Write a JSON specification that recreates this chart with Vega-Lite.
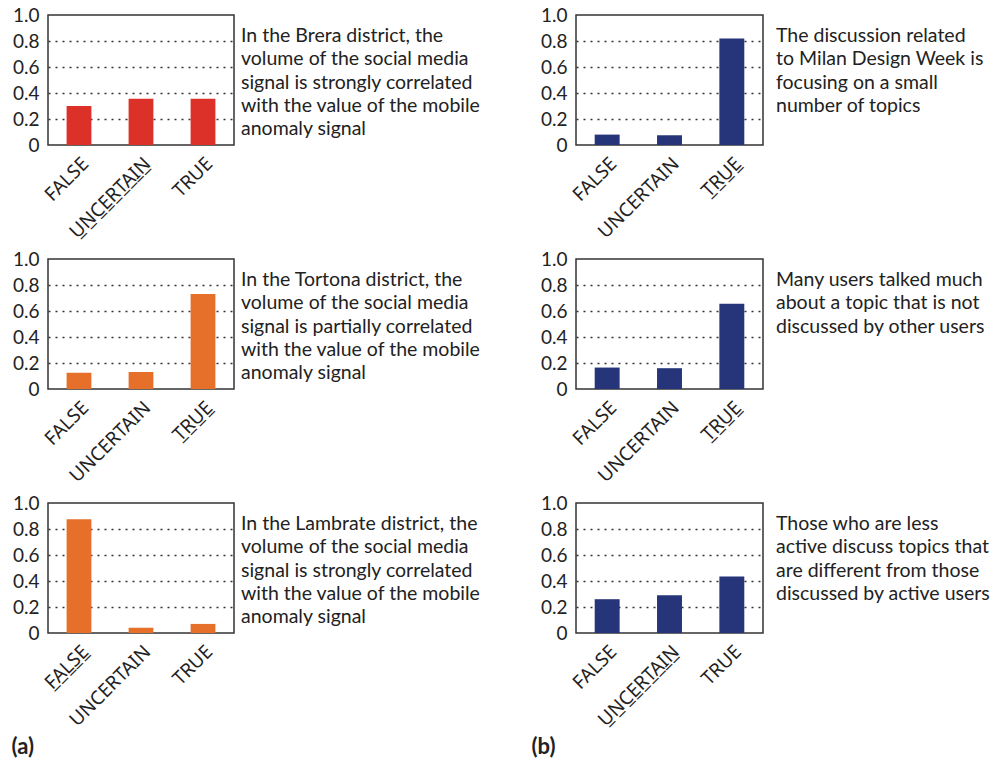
{
  "$schema": "https://vega.github.io/schema/vega-lite/v6.json",
  "background": "white",
  "padding": {"left": 10, "top": 5, "right": 5, "bottom": 5},
  "datasets": {
    "bars": [
      {"panel": "a1", "answer": "FALSE", "share": 0.30},
      {"panel": "a1", "answer": "UNCERTAIN", "share": 0.355},
      {"panel": "a1", "answer": "TRUE", "share": 0.355},
      {"panel": "a2", "answer": "FALSE", "share": 0.125},
      {"panel": "a2", "answer": "UNCERTAIN", "share": 0.13},
      {"panel": "a2", "answer": "TRUE", "share": 0.73},
      {"panel": "a3", "answer": "FALSE", "share": 0.875},
      {"panel": "a3", "answer": "UNCERTAIN", "share": 0.04},
      {"panel": "a3", "answer": "TRUE", "share": 0.07},
      {"panel": "b1", "answer": "FALSE", "share": 0.08},
      {"panel": "b1", "answer": "UNCERTAIN", "share": 0.075},
      {"panel": "b1", "answer": "TRUE", "share": 0.82},
      {"panel": "b2", "answer": "FALSE", "share": 0.165},
      {"panel": "b2", "answer": "UNCERTAIN", "share": 0.16},
      {"panel": "b2", "answer": "TRUE", "share": 0.655},
      {"panel": "b3", "answer": "FALSE", "share": 0.26},
      {"panel": "b3", "answer": "UNCERTAIN", "share": 0.29},
      {"panel": "b3", "answer": "TRUE", "share": 0.435}
    ],
    "notes": [
      {"panel": "a1", "line": 1, "text": "In the Brera district, the"},
      {"panel": "a1", "line": 2, "text": "volume of the social media"},
      {"panel": "a1", "line": 3, "text": "signal is strongly correlated"},
      {"panel": "a1", "line": 4, "text": "with the value of the mobile"},
      {"panel": "a1", "line": 5, "text": "anomaly signal"},
      {"panel": "a2", "line": 1, "text": "In the Tortona district, the"},
      {"panel": "a2", "line": 2, "text": "volume of the social media"},
      {"panel": "a2", "line": 3, "text": "signal is partially correlated"},
      {"panel": "a2", "line": 4, "text": "with the value of the mobile"},
      {"panel": "a2", "line": 5, "text": "anomaly signal"},
      {"panel": "a3", "line": 1, "text": "In the Lambrate district, the"},
      {"panel": "a3", "line": 2, "text": "volume of the social media"},
      {"panel": "a3", "line": 3, "text": "signal is strongly correlated"},
      {"panel": "a3", "line": 4, "text": "with the value of the mobile"},
      {"panel": "a3", "line": 5, "text": "anomaly signal"},
      {"panel": "b1", "line": 1, "text": "The discussion related"},
      {"panel": "b1", "line": 2, "text": "to Milan Design Week is"},
      {"panel": "b1", "line": 3, "text": "focusing on a small"},
      {"panel": "b1", "line": 4, "text": "number of topics"},
      {"panel": "b2", "line": 1, "text": "Many users talked much"},
      {"panel": "b2", "line": 2, "text": "about a topic that is not"},
      {"panel": "b2", "line": 3, "text": "discussed by other users"},
      {"panel": "b3", "line": 1, "text": "Those who are less"},
      {"panel": "b3", "line": 2, "text": "active discuss topics that"},
      {"panel": "b3", "line": 3, "text": "are different from those"},
      {"panel": "b3", "line": 4, "text": "discussed by active users"}
    ]
  },
  "columns": 4,
  "align": "each",
  "bounds": "flush",
  "spacing": {"column": 7, "row": 114},
  "concat": [
    {
      "width": 186, "height": 130,
      "data": {"name": "bars"},
      "transform": [{"filter": "datum.panel == 'a1'"}],
      "mark": {"type": "bar", "color": "#dc3129"},
      "encoding": {
        "x": {"field": "answer", "type": "nominal", "sort": ["FALSE", "UNCERTAIN", "TRUE"], "scale": {"paddingInner": 0.6, "paddingOuter": 0.3},
              "axis": {"title": null, "labelExpr": "datum.value == 'UNCERTAIN' ? replace(datum.label, regexp('(.)', 'g'), '$1\u0332') : datum.label"}},
        "y": {"field": "share", "type": "quantitative", "scale": {"domain": [0, 1]}, "axis": {"title": null}}
      }
    },
    {
      "width": 328, "height": 130, "view": {"stroke": null},
      "data": {"name": "notes"},
      "transform": [{"filter": "datum.panel == 'a1'"}],
      "mark": {"type": "text", "align": "left", "baseline": "middle", "font": "Lato", "fontSize": 19.5, "color": "#222222"},
      "encoding": {
        "x": {"datum": 0, "type": "quantitative", "scale": {"domain": [0, 1]}, "axis": null},
        "y": {"field": "line", "type": "quantitative", "scale": {"domain": [0.099, 5.68], "reverse": true}, "axis": null},
        "text": {"field": "text"}
      }
    },
    {
      "width": 187, "height": 130,
      "data": {"name": "bars"},
      "transform": [{"filter": "datum.panel == 'b1'"}],
      "mark": {"type": "bar", "color": "#263479"},
      "encoding": {
        "x": {"field": "answer", "type": "nominal", "sort": ["FALSE", "UNCERTAIN", "TRUE"], "scale": {"paddingInner": 0.6, "paddingOuter": 0.3},
              "axis": {"title": null, "labelExpr": "datum.value == 'TRUE' ? replace(datum.label, regexp('(.)', 'g'), '$1\u0332') : datum.label"}},
        "y": {"field": "share", "type": "quantitative", "scale": {"domain": [0, 1]}, "axis": {"title": null}}
      }
    },
    {
      "width": 217, "height": 130, "view": {"stroke": null},
      "data": {"name": "notes"},
      "transform": [{"filter": "datum.panel == 'b1'"}],
      "mark": {"type": "text", "align": "left", "baseline": "middle", "font": "Lato", "fontSize": 19.5, "color": "#222222", "dx": 6},
      "encoding": {
        "x": {"datum": 0, "type": "quantitative", "scale": {"domain": [0, 1]}, "axis": null},
        "y": {"field": "line", "type": "quantitative", "scale": {"domain": [0.099, 5.68], "reverse": true}, "axis": null},
        "text": {"field": "text"}
      }
    },
    {
      "width": 186, "height": 130,
      "data": {"name": "bars"},
      "transform": [{"filter": "datum.panel == 'a2'"}],
      "mark": {"type": "bar", "color": "#e6702a"},
      "encoding": {
        "x": {"field": "answer", "type": "nominal", "sort": ["FALSE", "UNCERTAIN", "TRUE"], "scale": {"paddingInner": 0.6, "paddingOuter": 0.3},
              "axis": {"title": null, "labelExpr": "datum.value == 'TRUE' ? replace(datum.label, regexp('(.)', 'g'), '$1\u0332') : datum.label"}},
        "y": {"field": "share", "type": "quantitative", "scale": {"domain": [0, 1]}, "axis": {"title": null}}
      }
    },
    {
      "width": 328, "height": 130, "view": {"stroke": null},
      "data": {"name": "notes"},
      "transform": [{"filter": "datum.panel == 'a2'"}],
      "mark": {"type": "text", "align": "left", "baseline": "middle", "font": "Lato", "fontSize": 19.5, "color": "#222222"},
      "encoding": {
        "x": {"datum": 0, "type": "quantitative", "scale": {"domain": [0, 1]}, "axis": null},
        "y": {"field": "line", "type": "quantitative", "scale": {"domain": [0.099, 5.68], "reverse": true}, "axis": null},
        "text": {"field": "text"}
      }
    },
    {
      "width": 187, "height": 130,
      "data": {"name": "bars"},
      "transform": [{"filter": "datum.panel == 'b2'"}],
      "mark": {"type": "bar", "color": "#263479"},
      "encoding": {
        "x": {"field": "answer", "type": "nominal", "sort": ["FALSE", "UNCERTAIN", "TRUE"], "scale": {"paddingInner": 0.6, "paddingOuter": 0.3},
              "axis": {"title": null, "labelExpr": "datum.value == 'TRUE' ? replace(datum.label, regexp('(.)', 'g'), '$1\u0332') : datum.label"}},
        "y": {"field": "share", "type": "quantitative", "scale": {"domain": [0, 1]}, "axis": {"title": null}}
      }
    },
    {
      "width": 217, "height": 130, "view": {"stroke": null},
      "data": {"name": "notes"},
      "transform": [{"filter": "datum.panel == 'b2'"}],
      "mark": {"type": "text", "align": "left", "baseline": "middle", "font": "Lato", "fontSize": 19.5, "color": "#222222", "dx": 6},
      "encoding": {
        "x": {"datum": 0, "type": "quantitative", "scale": {"domain": [0, 1]}, "axis": null},
        "y": {"field": "line", "type": "quantitative", "scale": {"domain": [0.099, 5.68], "reverse": true}, "axis": null},
        "text": {"field": "text"}
      }
    },
    {
      "width": 186, "height": 130,
      "data": {"name": "bars"},
      "transform": [{"filter": "datum.panel == 'a3'"}],
      "mark": {"type": "bar", "color": "#e6702a"},
      "encoding": {
        "x": {"field": "answer", "type": "nominal", "sort": ["FALSE", "UNCERTAIN", "TRUE"], "scale": {"paddingInner": 0.6, "paddingOuter": 0.3},
              "axis": {"title": "(a)", "titleFontWeight": "bold", "titleFontSize": 22, "titleAlign": "left", "titleBaseline": "alphabetic", "titleAnchor": "start", "titleX": -37, "titleY": 120,
                       "labelExpr": "datum.value == 'FALSE' ? replace(datum.label, regexp('(.)', 'g'), '$1\u0332') : datum.label"}},
        "y": {"field": "share", "type": "quantitative", "scale": {"domain": [0, 1]}, "axis": {"title": null}}
      }
    },
    {
      "width": 328, "height": 130, "view": {"stroke": null},
      "data": {"name": "notes"},
      "transform": [{"filter": "datum.panel == 'a3'"}],
      "mark": {"type": "text", "align": "left", "baseline": "middle", "font": "Lato", "fontSize": 19.5, "color": "#222222"},
      "encoding": {
        "x": {"datum": 0, "type": "quantitative", "scale": {"domain": [0, 1]}, "axis": null},
        "y": {"field": "line", "type": "quantitative", "scale": {"domain": [0.099, 5.68], "reverse": true}, "axis": null},
        "text": {"field": "text"}
      }
    },
    {
      "width": 187, "height": 130,
      "data": {"name": "bars"},
      "transform": [{"filter": "datum.panel == 'b3'"}],
      "mark": {"type": "bar", "color": "#263479"},
      "encoding": {
        "x": {"field": "answer", "type": "nominal", "sort": ["FALSE", "UNCERTAIN", "TRUE"], "scale": {"paddingInner": 0.6, "paddingOuter": 0.3},
              "axis": {"title": "(b)", "titleFontWeight": "bold", "titleFontSize": 22, "titleAlign": "left", "titleBaseline": "alphabetic", "titleAnchor": "start", "titleX": -45, "titleY": 120,
                       "labelExpr": "datum.value == 'UNCERTAIN' ? replace(datum.label, regexp('(.)', 'g'), '$1\u0332') : datum.label"}},
        "y": {"field": "share", "type": "quantitative", "scale": {"domain": [0, 1]}, "axis": {"title": null}}
      }
    },
    {
      "width": 217, "height": 130, "view": {"stroke": null},
      "data": {"name": "notes"},
      "transform": [{"filter": "datum.panel == 'b3'"}],
      "mark": {"type": "text", "align": "left", "baseline": "middle", "font": "Lato", "fontSize": 19.5, "color": "#222222", "dx": 6},
      "encoding": {
        "x": {"datum": 0, "type": "quantitative", "scale": {"domain": [0, 1]}, "axis": null},
        "y": {"field": "line", "type": "quantitative", "scale": {"domain": [0.099, 5.68], "reverse": true}, "axis": null},
        "text": {"field": "text"}
      }
    }
  ],
  "config": {
    "font": "Lato",
    "view": {"stroke": "#333333", "strokeWidth": 1.5},
    "bar": {"stroke": null},
    "axis": {
      "domain": false,
      "ticks": false,
      "labelFont": "Lato",
      "labelColor": "#222222",
      "titleColor": "#222222",
      "titleFont": "Lato"
    },
    "axisX": {
      "labelAngle": -45,
      "labelFont": "Noto Sans",
      "labelFontSize": 19,
      "labelPadding": 9,
      "labelAlign": "right",
      "labelBaseline": "top",
      "grid": false
    },
    "axisY": {
      "values": [0, 0.2, 0.4, 0.6, 0.8, 1],
      "labelExpr": "datum.value == 0 ? '0' : format(datum.value, '.1f')",
      "labelFontSize": 19,
      "labelPadding": 9,
      "grid": true,
      "gridColor": "#333333",
      "gridWidth": 1.6,
      "gridDash": [2, 5],
      "gridOpacity": {"condition": {"test": "datum.value == 0 || datum.value == 1", "value": 0}, "value": 1}
    }
  }
}
